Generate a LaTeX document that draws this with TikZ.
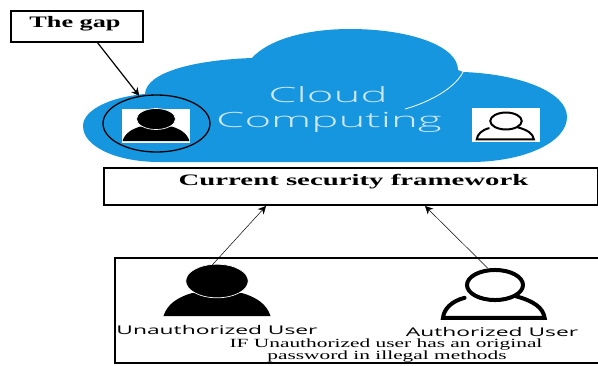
\documentclass[tikz,border=0pt]{standalone}
\usepackage{fontspec}
\usepackage{graphicx}
\setmainfont{Liberation Serif}
\setsansfont{Open Sans}
\newfontfamily\cloudfont{Open Sans Light}
\usetikzlibrary{shapes.geometric,arrows.meta}
\definecolor{cloudblue}{HTML}{1796E0}
\definecolor{cloudtext}{HTML}{CFE7F7}
\newcommand{\wide}[2]{\scalebox{#1}[1]{#2}}
\tikzset{
    labelbox/.style = {draw,line width = 1.2pt,minimum height = 31pt,inner sep = 0pt},
    cloudword/.style = {anchor = base,inner sep = 0pt,text = cloudtext,font = \cloudfont\fontsize{21}{21}\selectfont},
    arrowline/.style = {-{Stealth[length = 8pt,width = 8pt]}},
    darkuser/.pic = {
        \fill (-33.5,22) .. controls (-31,14) and (-24,10) .. (-15.6,7.5) -- (15.6,7.5) .. controls (24,10) and (31,14) .. (33.5,22) -- cycle;
        \draw [fill = black,draw = white,line width = 0.7pt] (0,0) ellipse (19.5 and 10.5);
        \coordinate (-top) at (-3,-10);
    },
    lightuser/.pic = {
        \draw [line width = 1.6pt*\pgfkeysvalueof{/tikz/userwidth}] (0,0) ellipse (17.5 and 9.4);
        \draw [line width = 1.6pt*\pgfkeysvalueof{/tikz/userwidth},line cap = round] (-19,8) .. controls (-27,10) and (-32,15) .. (-32.5,20.5) -- (31,20.5) .. controls (30,14) and (24,10) .. (13,7);
        \coordinate (-top) at (-4.5,-10.5);
    },
    userwidth/.initial = 1
}
\begin{document}
\begin{tikzpicture}[x = 1pt,y = -1pt]
    \useasboundingbox (0,0) rectangle (598,365);
    % cloud
    \fill [cloudblue] (160,162) .. controls (115,162) and (83,146) .. (83,126) .. controls (83,110) and (110,97) .. (145,94) .. controls (146,72) and (195,60) .. (252,58) .. controls (268,40) and (305,29) .. (350,29) .. controls (410,29) and (458,46) .. (458,70) -- (463,72) .. controls (520,74) and (567,92) .. (567,117) .. controls (567,142) and (525,162) .. (470,162) -- cycle;
    \draw [white,line width = 0.8pt] (463,72) .. controls (455,88) and (430,102) .. (405,109);
    \node (cloudlabel) at (328,102) [cloudword] {\wide{2.17}{Cloud}};
    \node (computelabel) at (329,127) [cloudword] {\wide{2.17}{Computing}};
    % small users
    \fill [white] (122,109) rectangle (190,143);
    \fill [white] (472,108) rectangle (540,142);
    \pic at (156,119) {darkuser};
    \pic at (506,121) [scale = 0.9,userwidth = 1.25] {lightuser};
    \node (ring) at (156.5,123.5) [draw,ellipse,line width = 1.3pt,minimum width = 107pt,minimum height = 57pt,inner sep = 0pt] {};
    % boxes
    \node (gap) at (77,26.5) [labelbox,minimum width = 132pt] {};
    \node (gaplabel) at (75,24) [inner sep = 0pt,font = \bfseries\fontsize{16}{16}\selectfont] {\wide{1.64}{The gap}};
    \node (framework) at (351,186.5) [labelbox,minimum width = 494pt,minimum height = 37pt] {};
    \node (frameworklabel) at (353.5,182) [inner sep = 0pt,font = \bfseries\fontsize{16}{16}\selectfont] {\wide{1.8}{Current security framework}};
    \draw [line width = 1.2pt] (598,258) -- (115,258) -- (115,363) -- (598,363);
    % big users
    \pic (bad) at (217,281) [scale = 1.6] {darkuser};
    \pic (good) at (495,285) [scale = 1.6,userwidth = 2.5] {lightuser};
    \node (badlabel) at (217,330) [inner sep = 0pt,font = \fontsize{12}{12}\selectfont\sffamily] {\wide{1.9}{Unauthorized User}};
    \node (goodlabel) at (492,331.5) [inner sep = 0pt,font = \fontsize{12}{12}\selectfont\sffamily] {\wide{1.9}{Authorized User}};
    \node (iflabel) at (386,345) [inner sep = 0pt,font = \fontsize{12.5}{12.5}\selectfont] {\wide{1.71}{IF Unauthorized user has an original}};
    \node (pwlabel) at (387,357) [inner sep = 0pt,font = \fontsize{12.5}{12.5}\selectfont] {\wide{1.71}{password in illegal methods}};
    % arrows
    \coordinate (gaptail) at (97,42);
    \coordinate (badtip) at (266,206);
    \coordinate (goodtip) at (425,206);
    \draw [arrowline,line width = 1.2pt] (gaptail) -- (ring.122);
    \draw [arrowline,line width = 0.5pt] (bad-top) -- (badtip);
    \draw [arrowline,line width = 0.5pt] (good-top) -- (goodtip);
\end{tikzpicture}
\end{document}
